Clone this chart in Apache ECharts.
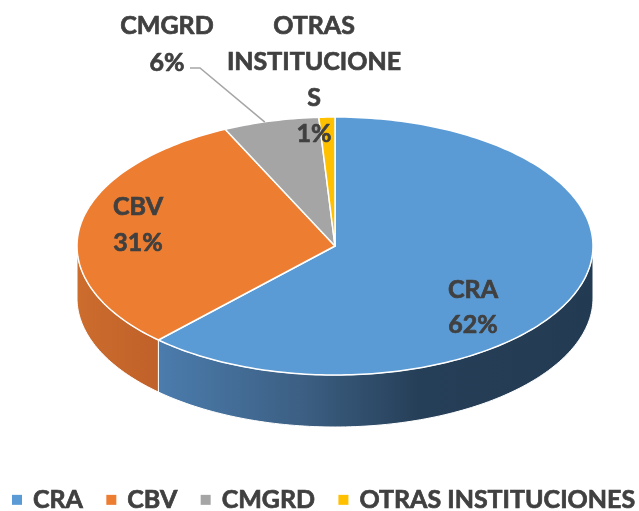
<!DOCTYPE html>
<html>
<head>
<meta charset="utf-8">
<script src="https://cdn.jsdelivr.net/npm/echarts@6/dist/echarts.min.js"></script>
<style>
  html, body { margin: 0; padding: 0; background: #ffffff; }
  #chart { width: 639px; height: 511px; }
</style>
</head>
<body>
<div id="chart"></div>
<script>
// datos
const categories = ['CRA', 'CBV', 'CMGRD', 'OTRAS INSTITUCIONES'];
const values = [62, 31, 6, 1];
const labelNames = ['CRA', 'CBV', 'CMGRD', 'OTRAS\nINSTITUCIONE\nS'];

// estilo
const topColors = ['#5b9bd5', '#ed7d31', '#a5a5a5', '#ffc000'];
const sideStops = [
  [[0, '#4b7cad'], [0.33, '#3c5f83'], [0.6, '#263f58'], [1, '#233b52']],
  [[0, '#cc6c2d'], [1, '#c0612a']],
  [[0, '#7f7f7f'], [1, '#6f6f6f']],
  [[0, '#c49300'], [1, '#b38600']]
];
const textColor = '#404040';
const fontFamily = 'Lato, "Open Sans", sans-serif';

// geometria de la torta
const cx = 335, cy = 246, rx = 258, ry = 129, depth = 52;
// posicion (centro) de cada etiqueta
const labelAt = [[473, 307], [138, 225], [167, 44], [314, 80]];
const labelLineH = [35, 36, 37, 36];

const total = values.reduce((a, b) => a + b, 0);
const cum = [0];
values.forEach((v, i) => cum.push(cum[i] + v));

const pt = (t, dy) => [cx + rx * Math.sin(t), cy - ry * Math.cos(t) + (dy || 0)];

function arcPoints(t1, t2, dy) {
  const n = Math.max(2, Math.ceil((t2 - t1) / 0.02));
  const out = [];
  for (let k = 0; k <= n; k++) out.push(pt(t1 + (t2 - t1) * k / n, dy));
  return out;
}

function renderSlice(params, api) {
  const i = api.value(0);
  const t1 = cum[i] / total * Math.PI * 2;
  const t2 = cum[i + 1] / total * Math.PI * 2;
  const children = [];

  // cara lateral (solo la mitad frontal: de PI/2 a 3PI/2)
  const s1 = Math.max(t1, Math.PI / 2);
  const s2 = Math.min(t2, Math.PI * 3 / 2);
  if (s2 > s1) {
    const up = arcPoints(s1, s2, 0);
    const down = arcPoints(s1, s2, depth).reverse();
    const xs = up.map(p => p[0]);
    const x0 = Math.min.apply(null, xs), x1 = Math.max.apply(null, xs);
    children.push({
      type: 'polygon',
      shape: { points: up.concat(down) },
      style: {
        fill: new echarts.graphic.LinearGradient(x0, 0, x1, 0,
          sideStops[i].map(s => ({ offset: s[0], color: s[1] })), true),
        stroke: '#ffffff',
        lineWidth: 1
      }
    });
  }

  // cara superior
  children.push({
    type: 'polygon',
    shape: { points: [[cx, cy]].concat(arcPoints(t1, t2, 0)) },
    style: { fill: topColors[i], stroke: '#ffffff', lineWidth: 1.5, lineJoin: 'round' }
  });

  // linea guia para CMGRD
  if (i === 2) {
    const mid = (t1 + t2) / 2;
    const e = pt(mid, 0);
    children.push({
      type: 'polyline',
      shape: { points: [[190, 68], [200, 68], [e[0] - 6, e[1] + 1]] },
      style: { stroke: '#a6a6a6', lineWidth: 1.5, fill: null }
    });
  }

  // etiqueta
  const pct = Math.round(values[i] / total * 100) + '%';
  const lh = labelLineH[i];
  const txt = labelNames[i] + '\n' + pct;
  children.push({
    type: 'text',
    style: {
      text: txt,
      x: labelAt[i][0],
      y: labelAt[i][1],
      fill: textColor,
      stroke: textColor,
      lineWidth: 0.7,
      font: 'bold 25px ' + fontFamily,
      lineHeight: lh,
      align: 'center',
      textAlign: 'center',
      verticalAlign: 'middle',
      textVerticalAlign: 'middle'
    }
  });

  return { type: 'group', children: children };
}

const chart = echarts.init(document.getElementById('chart'), null, { renderer: 'canvas' });

const option = {
  animation: false,
  backgroundColor: '#ffffff',
  legend: {
    data: categories,
    top: 482,
    left: 7,
    width: 700,
    icon: 'rect',
    itemWidth: 10,
    itemHeight: 10,
    itemGap: 23,
    textStyle: {
      color: textColor,
      fontSize: 25,
      fontWeight: 'bold',
      fontFamily: fontFamily,
      textBorderColor: textColor,
      textBorderWidth: 0.7,
      padding: [0, 0, 0, 6]
    }
  },
  series: categories.map((name, i) => ({
    type: 'custom',
    name: name,
    coordinateSystem: 'none',
    silent: true,
    itemStyle: { color: topColors[i] },
    data: [[i]],
    renderItem: renderSlice
  }))
};

chart.setOption(option);
</script>
</body>
</html>
